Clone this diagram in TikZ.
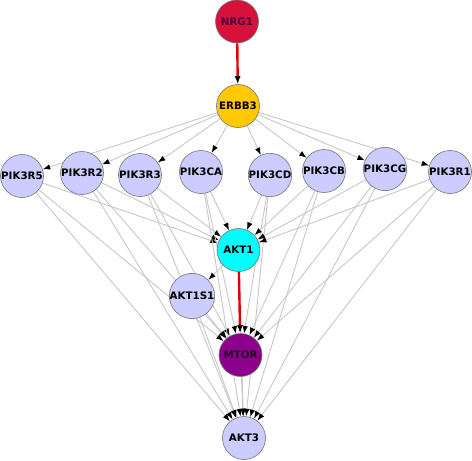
\documentclass[tikz,border=0pt]{standalone}
\usepackage{fontspec}
\setsansfont{DejaVu Sans}
\usetikzlibrary{arrows.meta,backgrounds}

\definecolor{nrgred}{RGB}{214,18,58}
\definecolor{erbbgold}{RGB}{255,200,0}
\definecolor{pikblue}{RGB}{204,204,255}
\definecolor{aktcyan}{RGB}{0,255,255}
\definecolor{mtorpurple}{RGB}{140,0,140}

\begin{document}
\begin{tikzpicture}[x=1pt,y=-1pt,
    gene/.style={circle,draw=black!55,line width=0.6pt,minimum size=43pt,inner sep=0pt,
      font=\sffamily\bfseries\fontsize{10.3}{11}\selectfont},
    link/.style={draw=black!22,line width=0.9pt,-{Latex[length=7.5pt,width=5.5pt,color=black]}},
    mainlink/.style={draw=red!90!black,line width=2.4pt,-{Latex[length=8pt,width=6pt,color=black]}}]
    \useasboundingbox (0,0) rectangle (472,461);
    % genes
    \node[gene,fill=nrgred,text=black!60!blue!70!red] (nrg1) at (237,21.5) {NRG1};
    \node[gene,fill=erbbgold] (erbb3) at (238,106) {ERBB3};
    \node[gene,fill=pikblue] (pik3r5) at (22,176) {PIK3R5};
    \node[gene,fill=pikblue] (pik3r2) at (82,173) {PIK3R2};
    \node[gene,fill=pikblue] (pik3r3) at (140,175) {PIK3R3};
    \node[gene,fill=pikblue] (pik3ca) at (201,172) {PIK3CA};
    \node[gene,fill=pikblue] (pik3cd) at (270,175) {PIK3CD};
    \node[gene,fill=pikblue] (pik3cb) at (324,171) {PIK3CB};
    \node[gene,fill=pikblue] (pik3cg) at (385,169) {PIK3CG};
    \node[gene,fill=pikblue] (pik3r1) at (450,172) {PIK3R1};
    \node[gene,fill=aktcyan] (akt1) at (238.5,250) {AKT1};
    \node[gene,fill=pikblue] (akt1s1) at (192,296) {AKT1S1};
    \node[gene,fill=mtorpurple,text=black!80!mtorpurple] (mtor) at (240.5,355) {MTOR};
    \node[gene,fill=pikblue] (akt3) at (244,438) {AKT3};
    % edges
    \begin{scope}[on background layer]
    \foreach \p in {pik3r5,pik3r2,pik3r3,pik3ca,pik3cd,pik3cb,pik3cg,pik3r1} {
        \draw[link] (erbb3) -- (\p);
        \draw[link] (\p) -- (akt1);
        \draw[link] (\p) -- (mtor);
        \draw[link] (\p) -- (akt3);
    }
    \draw[link] (akt1) -- (akt1s1);
    \draw[link] (akt1s1) -- (mtor);
    \draw[link] (akt1s1) -- (akt3);
    \draw[link] (akt1) -- (akt3);
    \draw[link] (mtor) -- (akt3);
    \draw[mainlink] (nrg1) -- (erbb3);
    \draw[mainlink] (akt1) -- (mtor);
    \end{scope}
\end{tikzpicture}
\end{document}
